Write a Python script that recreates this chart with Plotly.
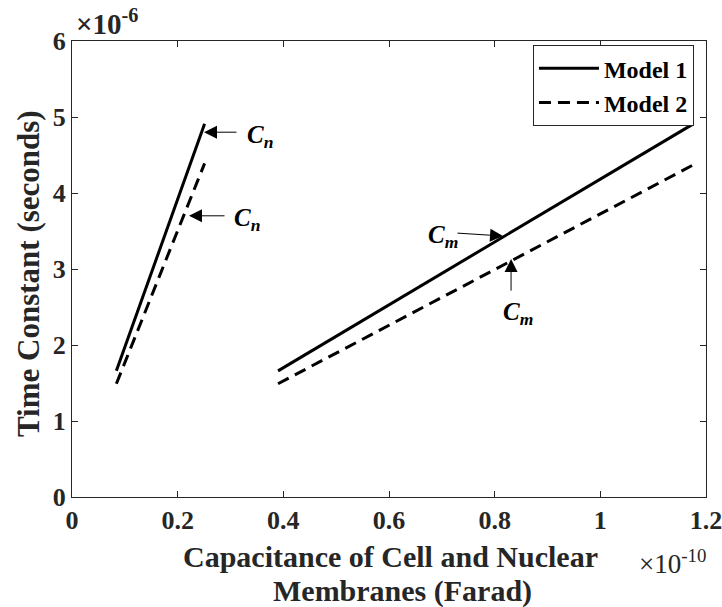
import plotly.graph_objects as go

# Capacitance values (x 1e-10 F)
cap_nuclear = [0.084, 0.251]
cap_cell = [0.39, 1.176]
# Time constants (x 1e-6 s)
tau_n_model1 = [1.66, 4.91]
tau_n_model2 = [1.49, 4.39]
tau_m_model1 = [1.66, 4.91]
tau_m_model2 = [1.49, 4.37]

x_ticks = [0, 0.2, 0.4, 0.6, 0.8, 1, 1.2]
x_tick_labels = ["0", "0.2", "0.4", "0.6", "0.8", "1", "1.2"]
y_ticks = [0, 1, 2, 3, 4, 5, 6]
y_tick_labels = ["0", "1", "2", "3", "4", "5", "6"]

SERIF = "Liberation Serif, Times New Roman, serif"

fig = go.Figure()
line1 = dict(color="black", width=3)
line2 = dict(color="black", width=3, dash="12px,7px")

fig.add_trace(go.Scatter(x=cap_nuclear, y=tau_n_model1, mode="lines", line=line1,
                         name="Model 1"))
fig.add_trace(go.Scatter(x=cap_nuclear, y=tau_n_model2, mode="lines", line=line2,
                         name="Model 2"))
fig.add_trace(go.Scatter(x=cap_cell, y=tau_m_model1, mode="lines", line=line1,
                         name="Model 1", showlegend=False))
fig.add_trace(go.Scatter(x=cap_cell, y=tau_m_model2, mode="lines", line=line2,
                         name="Model 2", showlegend=False))

axis_common = dict(showgrid=False, zeroline=False, showline=True, linecolor="#262626",
                   linewidth=1, ticks="inside", ticklen=6, tickcolor="#262626",
                   mirror="allticks", ticklabeloverflow="allow", automargin=False,
                   tickfont=dict(family=SERIF, size=26, color="#262626", weight="bold"))

fig.update_xaxes(range=[0, 1.2], tickvals=x_ticks, ticktext=x_tick_labels, **axis_common)
fig.update_yaxes(range=[0, 6], tickvals=y_ticks, ticktext=y_tick_labels, **axis_common)

annotations = []
# arrows (tip on data coords, tail offset in px)
arrows = [
    (0.2498, 4.80, 34, 0),
    (0.2215, 3.70, 37, 0),
    (0.8158, 3.434, -47, -3),
    (0.8310, 3.13, 0, 33),
]
for (ax_x, ax_y, dx, dy) in arrows:
    annotations.append(dict(x=ax_x, y=ax_y, xref="x", yref="y", text="", showarrow=True,
                            ax=dx, ay=dy, arrowhead=2, arrowsize=2.6, arrowwidth=1,
                            arrowcolor="black"))

labels = [
    (260, 136, "<i>C<sub>n</sub></i>"),
    (247, 219, "<i>C<sub>n</sub></i>"),
    (443, 236, "<i>C<sub>m</sub></i>"),
    (518, 314, "<i>C<sub>m</sub></i>"),
]
for (px, py, t) in labels:
    annotations.append(dict(x=(px - 72) / 634, y=(497 - py) / 456, xref="paper", yref="paper",
                            text=t, showarrow=False, xanchor="center", yanchor="middle",
                            font=dict(family=SERIF, size=25, color="black", weight="bold")))

# axis titles
annotations.append(dict(x=(390 - 72) / 634, y=(497 - 556) / 456, xref="paper", yref="paper",
                        text="Capacitance of Cell and Nuclear", showarrow=False,
                        xanchor="center", yanchor="middle",
                        font=dict(family=SERIF, size=30, color="#262626", weight="bold")))
annotations.append(dict(x=(402 - 72) / 634, y=(497 - 591) / 456, xref="paper", yref="paper",
                        text="Membranes (Farad)", showarrow=False,
                        xanchor="center", yanchor="middle",
                        font=dict(family=SERIF, size=30, color="#262626", weight="bold")))
annotations.append(dict(x=(28 - 72) / 634, y=(497 - 274) / 456, xref="paper", yref="paper",
                        text="Time Constant (seconds)", showarrow=False, textangle=-90,
                        xanchor="center", yanchor="middle",
                        font=dict(family=SERIF, size=31, color="#262626", weight="bold")))
# exponent labels
annotations.append(dict(x=(74 - 72) / 634, y=(497 - 42) / 456, xref="paper", yref="paper",
                        text="×10<sup>-6</sup>", showarrow=False, xanchor="left", yanchor="bottom",
                        font=dict(family=SERIF, size=29, color="#262626", weight="bold")))
annotations.append(dict(x=(708 - 72) / 634, y=(497 - 562) / 456, xref="paper", yref="paper",
                        text="×10<sup>-10</sup>", showarrow=False, xanchor="right", yanchor="middle",
                        font=dict(family=SERIF, size=27, color="#262626")))

fig.update_layout(
    width=722, height=607,
    margin=dict(l=72, r=16, t=41, b=110, autoexpand=False),
    paper_bgcolor="white", plot_bgcolor="white",
    showlegend=True,
    legend=dict(x=0.981, y=0.991, xanchor="right", yanchor="top",
                bordercolor="#262626", borderwidth=1, bgcolor="white",
                font=dict(family=SERIF, size=24, color="black", weight="bold"),
                tracegroupgap=0, itemwidth=60),
    annotations=annotations,
)

fig.write_html("out.html")
